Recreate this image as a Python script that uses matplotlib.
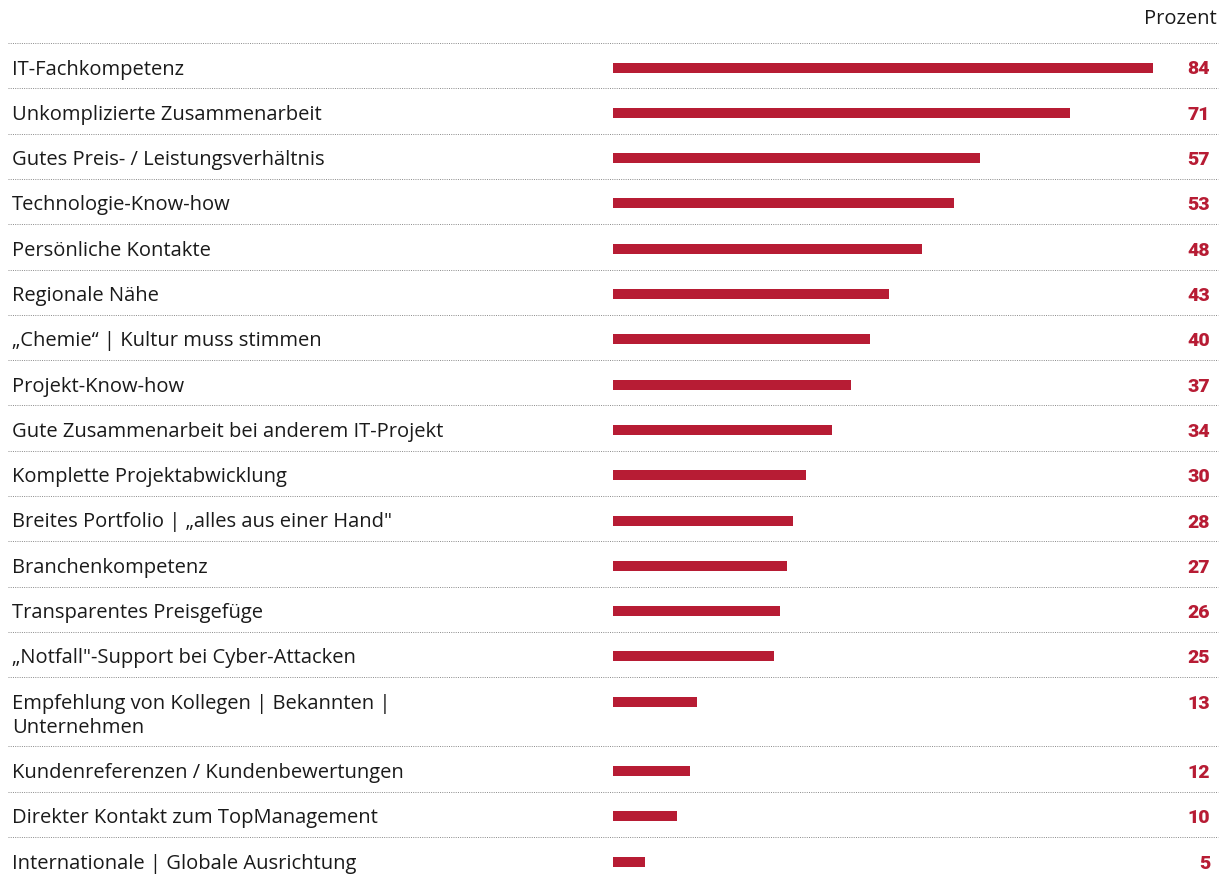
#!/usr/bin/env python3
# -*- coding: utf-8 -*-
"""
Horizontal bar chart: Kriterien bei der Auswahl eines IT-Dienstleisters (Prozent)
"""

import matplotlib
matplotlib.use('Agg')
import matplotlib.pyplot as plt
from matplotlib.transforms import blended_transform_factory

labels = [
    'IT-Fachkompetenz',
    'Unkomplizierte Zusammenarbeit',
    'Gutes Preis- / Leistungsverhältnis',
    'Technologie-Know-how',
    'Persönliche Kontakte',
    'Regionale Nähe',
    '\u201eChemie\u201c | Kultur muss stimmen',
    'Projekt-Know-how',
    'Gute Zusammenarbeit bei anderem IT-Projekt',
    'Komplette Projektabwicklung',
    'Breites Portfolio | \u201ealles aus einer Hand"',
    'Branchenkompetenz',
    'Transparentes Preisgefüge',
    '\u201eNotfall"-Support bei Cyber-Attacken',
    'Empfehlung von Kollegen | Bekannten |\nUnternehmen',
    'Kundenreferenzen / Kundenbewertungen',
    'Direkter Kontakt zum TopManagement',
    'Internationale | Globale Ausrichtung',
]
values = [84, 71, 57, 53, 48, 43, 40, 37, 34, 30, 28, 27, 26, 25, 13, 12, 10, 5]

BAR_COLOR = '#B71C34'
TEXT_COLOR = '#1a1a1a'
LINE_COLOR = '#8a8a8a'
FONT = 'Open Sans'
FS = 14.5

W, H = 1225, 875
ROW_H = 45.3        # pixels per single-line row
LINE_STEP = 24      # pixels between lines of a wrapped label
TOP = 43            # first separator line (pixels from top)
X0, PX_PER_UNIT = 613, 6.43

fig = plt.figure(figsize=(W / 100, H / 100), dpi=100)
# axes: x in percent starting at bar origin, y in pixels from top
ax = fig.add_axes([X0 / W, 0, 1 - X0 / W, 1])
ax.set_xlim(0, (W - X0) / PX_PER_UNIT)
ax.set_ylim(H, 0)
ax.axis('off')

trans = blended_transform_factory(fig.transFigure, ax.transData)

# row tops
tops = []
y = TOP
for lab in labels:
    tops.append(y)
    y += ROW_H + LINE_STEP * lab.count('\n')

bar_y = [t + 24.5 for t in tops]
ax.barh(bar_y, values, height=10, color=BAR_COLOR, left=0)

for lab, val, t, by in zip(labels, values, tops, bar_y):
    # separator above each row
    ax.plot([8 / W, 1218 / W], [t, t], transform=trans, color=LINE_COLOR,
            lw=0.7, ls=(0, (1, 1.3)), clip_on=False)
    for i, line in enumerate(lab.split('\n')):
        ax.text(12 / W, t + 31.5 + i * LINE_STEP, line, transform=trans,
                ha='left', va='baseline', fontsize=FS, family=FONT,
                color=TEXT_COLOR)
    ax.text(1210 / W, t + 31.5, str(val), transform=trans, ha='right',
            va='baseline', fontsize=14, family='Roboto', fontweight='black',
            color=BAR_COLOR)

fig.text(1217 / W, 1 - 24 / H, 'Prozent', ha='right', va='baseline',
         fontsize=FS, family=FONT, color=TEXT_COLOR)

fig.savefig('out.png', dpi=100)
